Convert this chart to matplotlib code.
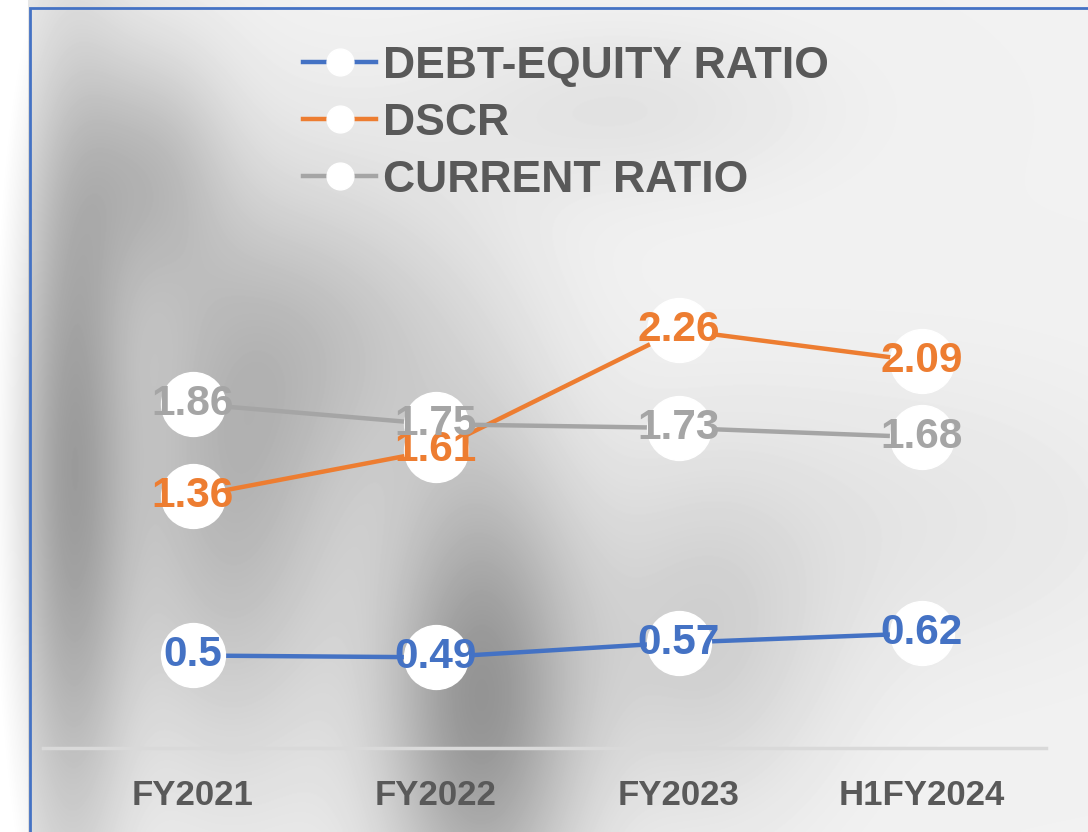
import numpy as np
from matplotlib import pyplot as plt
from matplotlib.patches import Rectangle

periods = ["FY2021", "FY2022", "FY2023", "H1FY2024"]
debt_equity = [0.5, 0.49, 0.57, 0.62]
dscr = [1.36, 1.61, 2.26, 2.09]
current_ratio = [1.86, 1.75, 1.73, 1.68]

series_names = ["DEBT-EQUITY RATIO", "DSCR", "CURRENT RATIO"]
series_values = [debt_equity, dscr, current_ratio]
series_colors = ["#4472C4", "#ED7D31", "#A5A5A5"]

plt.rcParams["font.family"] = ["Liberation Sans", "DejaVu Sans"]
plt.rcParams["font.weight"] = "bold"

W, H = 1088, 832
fig = plt.figure(figsize=(W / 100, H / 100), dpi=100)

# blurred grey photo background, faked with soft blobs
bg_ax = fig.add_axes([0, 0, 1, 1], zorder=-2)
yy, xx = np.mgrid[0:H, 0:W]
bg = np.full((H, W), 0.95)
blobs = [(70, 470, 40, 280, 0.30), (230, 500, 85, 190, 0.22),
         (480, 700, 70, 170, 0.36), (150, 170, 55, 90, 0.18),
         (350, 330, 110, 110, 0.13), (620, 110, 140, 60, 0.06),
         (880, 520, 200, 110, 0.05), (700, 650, 90, 120, 0.12)]
for bx, by, sx, sy, d in blobs:
    bg -= d * np.exp(-((xx - bx) ** 2 / (2 * sx ** 2) + (yy - by) ** 2 / (2 * sy ** 2)))
bg[:, :28] = np.clip(bg[:, :28] + 0.1, 0, 1)
bg_ax.imshow(bg, cmap="gray", vmin=0, vmax=1, aspect="auto", interpolation="bilinear")
bg_ax.axis("off")

fig.patches.append(Rectangle((30 / W, -0.01), 1.2, 1 - 8 / H + 0.01, transform=fig.transFigure,
                             fill=False, edgecolor="#4472C4", linewidth=2))

ax = fig.add_axes([43 / W, 1 - 748 / H, 1003 / W, 728 / H])
ax.patch.set_alpha(0)
x = np.arange(len(periods))

for name, vals, col in zip(series_names, series_values, series_colors):
    ax.plot(x, vals, color=col, linewidth=3.2, marker="o", markersize=46,
            markerfacecolor="white", markeredgecolor="white", label=name, zorder=2)

for vals, col in zip(series_values, series_colors):
    for xi, v in zip(x, vals):
        ax.text(xi, v, f"{v:g}", color=col, fontsize=30.5, fontweight="bold",
                ha="center", va="center", zorder=5)

ax.set_xlim(-0.617, 3.51)
ax.set_ylim(0, 3.935)
ax.set_xticks(x)
ax.set_xticklabels(periods, fontsize=25, color="#595959", fontweight="bold")
ax.tick_params(axis="x", length=0, pad=22)
ax.set_yticks([])
for side in ["left", "right", "top"]:
    ax.spines[side].set_visible(False)
ax.spines["bottom"].set_color("#d9d9d9")
ax.spines["bottom"].set_linewidth(2.5)

leg = ax.legend(loc="upper left", bbox_to_anchor=(303 / W, 1 - 46 / H), bbox_transform=fig.transFigure,
                frameon=False, fontsize=32, markerscale=0.42, handlelength=1.65,
                handletextpad=0.15, labelspacing=0.36, borderpad=0, borderaxespad=0)
for t in leg.get_texts():
    t.set_color("#595959")
    t.set_fontweight("bold")

plt.savefig("out.png", dpi=100)
